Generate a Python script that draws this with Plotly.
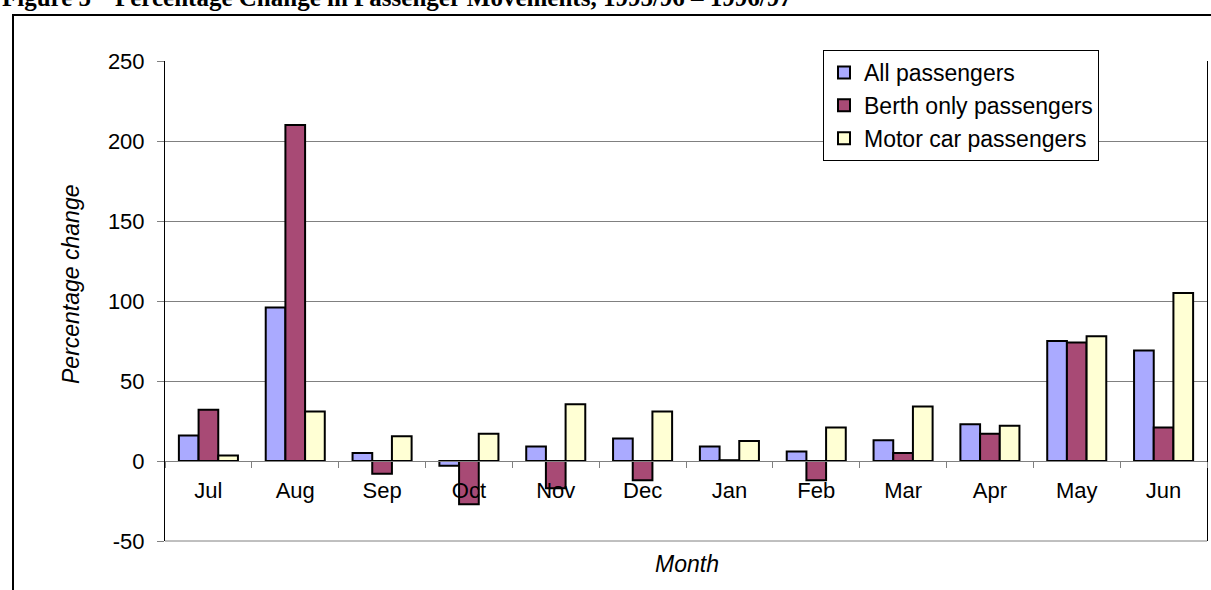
import plotly.graph_objects as go

months = ["Jul", "Aug", "Sep", "Oct", "Nov", "Dec", "Jan", "Feb", "Mar", "Apr", "May", "Jun"]
all_passengers = [16, 96, 5, -3, 9, 14, 9, 6, 13, 23, 75, 69]
berth_only = [32, 210, -8, -27, -17, -12, 0.5, -12, 5, 17, 74, 21]
motor_car = [3.5, 31, 15.5, 17, 35.5, 31, 12.5, 21, 34, 22, 78, 105]
y_ticks = [-50, 0, 50, 100, 150, 200, 250]

series = [
    ("All passengers", all_passengers, "#AAAAFF"),
    ("Berth only passengers", berth_only, "#A84A75"),
    ("Motor car passengers", motor_car, "#FFFFD4"),
]

W, H = 1211, 590
L, R, T, B = 165, 1207, 61, 541
pw, ph = R - L, B - T
ymin, ymax = -50, 250
FONT = "Liberation Sans, Arial, sans-serif"
SERIF = "Liberation Serif, Times New Roman, serif"

fig = go.Figure()
for name, vals, col in series:
    fig.add_trace(go.Bar(
        x=months, y=vals, name=name,
        marker=dict(color=col, line=dict(color="black", width=2)),
    ))

def px_x(x):
    return (x - L) / pw

def px_y(y):
    return (B - y) / ph

zero_pos = (0 - ymin) / (ymax - ymin)

fig.update_layout(
    width=W, height=H,
    margin=dict(l=L, r=W - R, t=T, b=H - B, pad=0),
    paper_bgcolor="white", plot_bgcolor="white",
    barmode="group", bargap=0.32, bargroupgap=0,
    font=dict(family=FONT, size=22, color="black"),
    showlegend=True,
    legend=dict(
        x=px_x(823), y=px_y(50), xanchor="left", yanchor="top",
        bgcolor="white", bordercolor="black", borderwidth=1,
        font=dict(size=23), itemwidth=30, tracegroupgap=0,
    ),
    xaxis=dict(
        anchor="free", position=zero_pos,
        showline=True, linecolor="#808080", linewidth=1,
        ticks="outside", tickson="boundaries", ticklen=6, tickcolor="#808080",
        showgrid=False, tickfont=dict(size=22), ticklabelstandoff=10,
        range=[-0.5, 11.5], layer="above traces",
    ),
    yaxis=dict(
        range=[ymin, ymax], tickvals=y_ticks, ticktext=[str(v) for v in y_ticks],
        showline=True, linecolor="black", linewidth=1, mirror=True,
        showgrid=True, gridcolor="#808080", gridwidth=1,
        ticks="outside", ticklen=7, tickcolor="#808080",
        zeroline=False, tickfont=dict(size=22), ticklabelstandoff=8,
    ),
    shapes=[
        dict(type="rect", xref="paper", yref="paper",
             x0=px_x(13), x1=px_x(1230), y0=px_y(620), y1=px_y(15),
             line=dict(color="black", width=2), layer="below"),
        dict(type="line", xref="paper", yref="paper",
             x0=0, x1=1, y0=0, y1=0, line=dict(color="#808080", width=1)),
    ],
    annotations=[
        dict(text="<b>Figure 5</b>", xref="paper", yref="paper",
             x=px_x(0), y=px_y(13), xanchor="left", yanchor="bottom", showarrow=False,
             font=dict(family=SERIF, size=25)),
        dict(text="<b>Percentage Change in Passenger Movements, 1995/96 – 1996/97</b>",
             xref="paper", yref="paper",
             x=px_x(113), y=px_y(13), xanchor="left", yanchor="bottom", showarrow=False,
             font=dict(family=SERIF, size=25)),
        dict(text="<i>Percentage change</i>", xref="paper", yref="paper",
             x=px_x(71), y=px_y(284), xanchor="center", yanchor="middle", showarrow=False,
             textangle=-90, font=dict(size=23)),
        dict(text="<i>Month</i>", xref="paper", yref="paper",
             x=px_x(687), y=px_y(564), xanchor="center", yanchor="middle", showarrow=False,
             font=dict(size=23)),
    ],
)

fig.write_html("out.html", config={"displayModeBar": False},
               post_script="document.body.style.margin='0px';")
